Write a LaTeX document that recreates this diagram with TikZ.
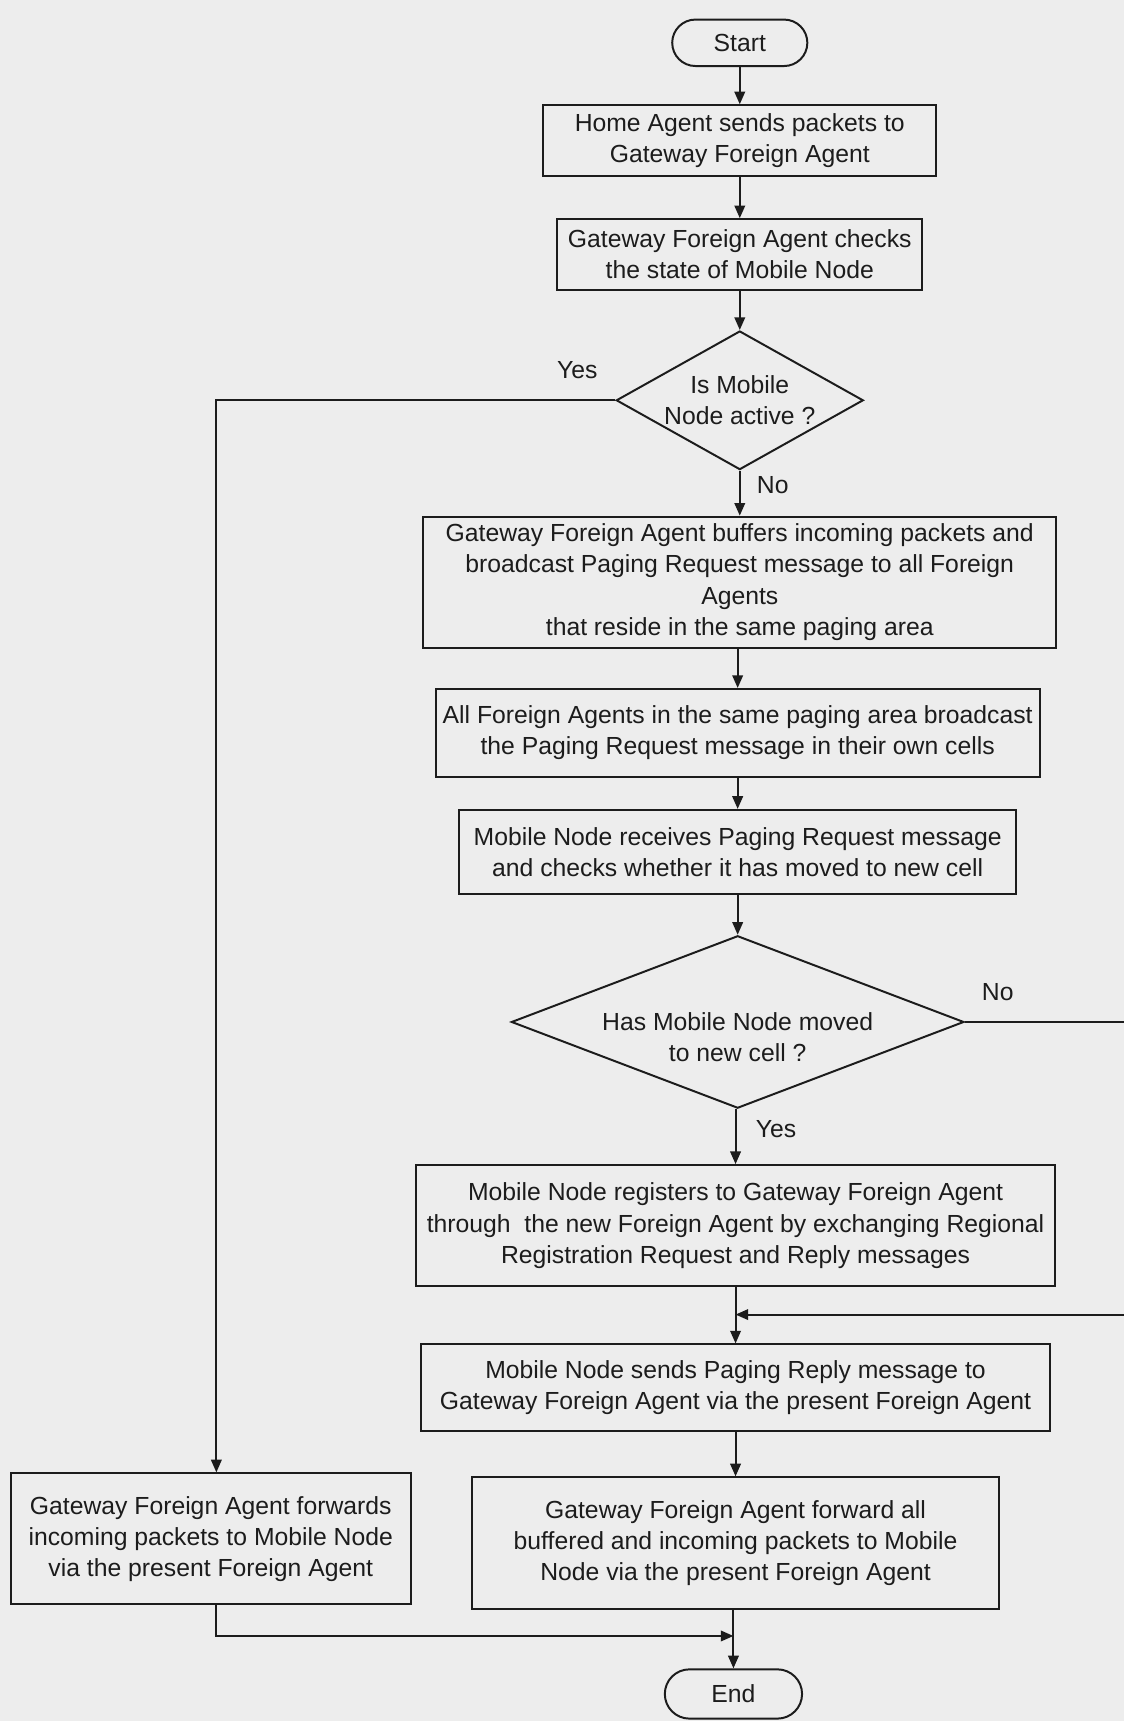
\documentclass[tikz,border=0pt]{standalone}
\usepackage{fontspec}
\setmainfont{Liberation Sans}
\usepackage{tikz}
\usetikzlibrary{arrows.meta,positioning,shapes.geometric}
\definecolor{paper}{HTML}{EDEDED}
\definecolor{ink}{HTML}{1C1C1C}

\begin{document}
\begin{tikzpicture}[
  x=0.0156cm, y=-0.0156cm,
  node distance=0.6cm,
  every node/.style={font=\fontsize{10}{12.6}\selectfont,text=ink},
  fbox/.style={draw=ink,line width=0.8pt,align=center,inner sep=2pt},
  term/.style={fbox,minimum width=1.92cm,minimum height=0.66cm,rounded corners=0.33cm},
  dec/.style={fbox,diamond,inner sep=0pt},
  lbl/.style={inner sep=1pt},
  arr/.style={-{Triangle[length=1.8mm,width=1.5mm]},line width=0.8pt,draw=ink}
]
\useasboundingbox (0,0) rectangle (1024,1568);
\fill[paper] (0,0) rectangle (1024,1568);

\node[term] (start) at (674,39) {Start};
\node[fbox,minimum width=5.58cm,minimum height=1.01cm,below=0.53cm of start] (home) {Home Agent sends packets to\\Gateway Foreign Agent};
\node[fbox,minimum width=5.18cm,minimum height=1.0cm,below=0.58cm of home] (check) {Gateway Foreign Agent checks\\the state of Mobile Node};
\node[dec,aspect=1.78,minimum width=3.51cm,minimum height=1.97cm,below=0.56cm of check] (active) {Is Mobile\\Node active ?};
\node[fbox,minimum width=8.99cm,minimum height=1.86cm,below=0.64cm of active] (buffer) {Gateway Foreign Agent buffers incoming packets and\\broadcast Paging Request message to all Foreign\\Agents\\that reside in the same paging area};
\node[fbox,minimum width=8.58cm,minimum height=1.25cm,below=0.56cm of buffer,xshift=-0.03cm] (bcast) {All Foreign Agents in the same paging area broadcast\\the Paging Request message in their own cells};
\node[fbox,minimum width=7.92cm,minimum height=1.2cm,below=0.44cm of bcast] (recv) {Mobile Node receives Paging Request message\\and checks whether it has moved to new cell};
\node[dec,aspect=2.62,minimum width=6.43cm,minimum height=2.45cm,below=0.56cm of recv] (moved) {};
\node[align=center] (movedq) at ([yshift=-0.22cm]moved.center) {Has Mobile Node moved\\to new cell ?};
\node[fbox,minimum width=9.09cm,minimum height=1.72cm,below=0.78cm of moved,xshift=-0.03cm] (reg) {Mobile Node registers to Gateway Foreign Agent\\through\ \ the new Foreign Agent by exchanging Regional\\Registration Request and Reply messages};
\node[fbox,minimum width=8.94cm,minimum height=1.23cm,below=0.80cm of reg] (reply) {Mobile Node sends Paging Reply message to\\Gateway Foreign Agent via the present Foreign Agent};
\node[fbox,minimum width=7.49cm,minimum height=1.87cm,below=0.63cm of reply] (fwdall) {Gateway Foreign Agent forward all\\buffered and incoming packets to Mobile\\Node via the present Foreign Agent};
\node[term,minimum width=1.95cm,minimum height=0.70cm,rounded corners=0.35cm,below=0.83cm of fwdall,xshift=-0.03cm] (end) {End};
\node[fbox,minimum width=5.68cm,minimum height=1.86cm] (fwd) at (192,1402) {Gateway Foreign Agent forwards\\incoming packets to Mobile Node\\via the present Foreign Agent};

% branch labels
\node[lbl] (yes1) at (526,337) {Yes};
\node[lbl] (no1) at (704,442) {No};
\node[lbl] (no2) at (909,904) {No};
\node[lbl] (yes2) at (707,1029) {Yes};

\coordinate (rim) at (1034,0);
\coordinate (back) at ([yshift=-0.39cm]reg.south);
\coordinate (join) at ([yshift=-0.37cm]fwdall.south);

\draw[arr] (start)--(home); \draw[arr] (home)--(check); \draw[arr] (check)--(active);
\draw[arr] (active)--(buffer); \draw[arr] (buffer.south -| bcast)--(bcast);
\draw[arr] (bcast)--(recv); \draw[arr] (recv)--(moved);
\draw[arr] (moved.south -| reg)--(reg); \draw[arr] (reg)--(reply); \draw[arr] (reply)--(fwdall);
\draw[arr] (fwdall.south -| end)--(end);
\draw[arr] (active.west) -| ([xshift=0.08cm]fwd.north);
\draw[arr] (moved.east) -- (moved.east -| rim) |- (back);
\draw[arr] ([xshift=0.08cm]fwd.south) |- (join -| end);
\end{tikzpicture}
\end{document}
